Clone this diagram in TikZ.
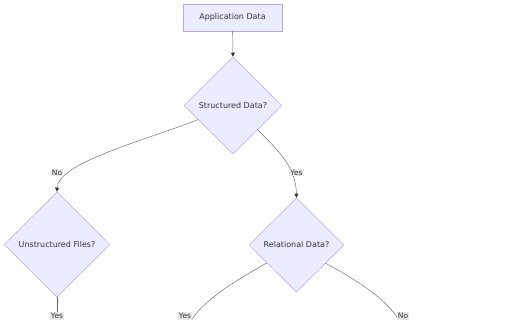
\documentclass[tikz,border=0pt]{standalone}
\usepackage{fontspec}
\setmainfont{DejaVu Sans}
\usetikzlibrary{shapes.geometric,arrows.meta}
\definecolor{nodefill}{HTML}{ECECFF}
\definecolor{nodeline}{HTML}{B8A2EA}
\definecolor{edgecol}{HTML}{333333}
\definecolor{linecol}{HTML}{666666}
\definecolor{lblfill}{HTML}{E8E8E8}
\tikzset{
  procbox/.style={draw=nodeline, fill=nodefill, line width=0.5pt, minimum width=99pt, minimum height=27pt, inner sep=0pt, font=\fontsize{8}{9}\selectfont, text=edgecol},
  decbox/.style={diamond, aspect=1, draw=nodeline, fill=nodefill, line width=0.5pt, inner sep=0pt, font=\fontsize{8}{9}\selectfont, text=edgecol},
  edge/.style={draw=linecol, line width=0.45pt},
  arr/.style={edge, -{Triangle[length=4pt,width=4pt,color=edgecol]}},
  lbl/.style={fill=lblfill, inner sep=1pt, font=\fontsize{7.5}{8.5}\selectfont, text=edgecol}
}
\begin{document}
\begin{tikzpicture}[x=1pt,y=-1pt]
\useasboundingbox (0,0) rectangle (512,320);
\node[procbox] (app) at (232.5,17.5) {Application Data};
\node[decbox, minimum width=98pt, minimum height=97pt] (sd) at (233,105.5) {Structured Data?};
\node[decbox, minimum width=106pt, minimum height=105pt] (ud) at (57,244.5) {Unstructured Files?};
\node[decbox, minimum width=95pt, minimum height=94pt] (rd) at (296.5,245) {Relational Data?};

\coordinate (e1) at (57,324);
\coordinate (e2) at (188,325);
\coordinate (e3) at (402,325);

\draw[arr] (app) -- (sd.north);
\draw[arr] (sd.202) .. controls (140,142) and (58,163) .. (ud.north);
\draw[arr] (sd.south east) .. controls (280,152) and (296,168) .. (rd.north);
\draw[edge] (ud.south) -- (e1);
\draw[edge] (rd.211) .. controls (232,283) and (203,300) .. (e2);
\draw[edge] (rd.328) .. controls (362,283) and (390,302) .. (e3);

\node[lbl] (l1) at (57,172.5) {No};
\node[lbl] (l2) at (296.5,172.5) {Yes};
\node[lbl] (l3) at (57,316) {Yes};
\node[lbl] (l4) at (185,316) {Yes};
\node[lbl] (l5) at (403,316) {No};
\end{tikzpicture}
\end{document}
